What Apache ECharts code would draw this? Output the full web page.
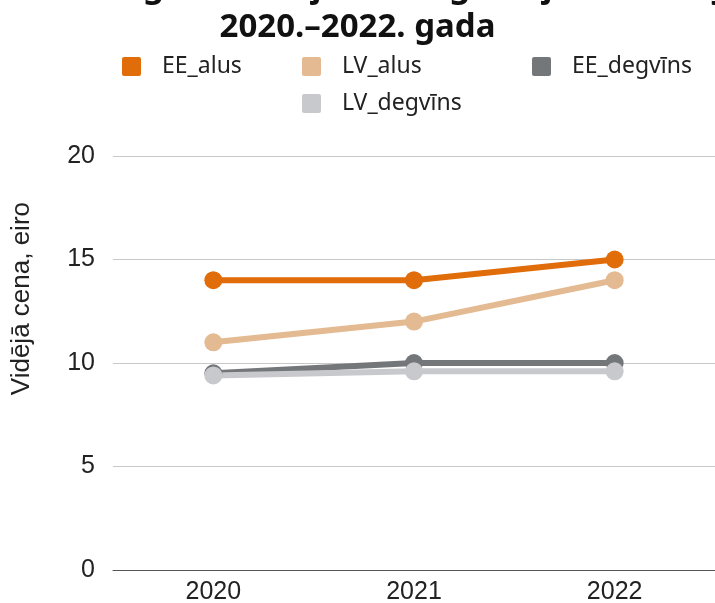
<!DOCTYPE html>
<html>
<head>
<meta charset="utf-8">
<script src="https://cdn.jsdelivr.net/npm/echarts@6/dist/echarts.min.js"></script>
<style>
html,body{margin:0;padding:0;background:#fff;}
#main{width:715px;height:603px;}
</style>
</head>
<body>
<div id="main"></div>
<script>
// dati
var years = ['2020', '2021', '2022'];
var eeAlus = [14, 14, 15];
var lvAlus = [11, 12, 14];
var eeDegvins = [9.5, 10, 10];
var lvDegvins = [9.4, 9.6, 9.6];
var seriesNames = ['EE_alus', 'LV_alus', 'EE_degvīns', 'LV_degvīns'];
var colors = ['#e06c0a', '#e3ba91', '#74777a', '#c7c9cd'];

var legendPos = [
    {left: 117, top: 50},
    {left: 297, top: 50},
    {left: 527, top: 50},
    {left: 297, top: 87}
];
var squareIcon = 'path://M2,0 H16 A2,2 0 0 1 18,2 V16 A2,2 0 0 1 16,18 H2 A2,2 0 0 1 0,16 V2 A2,2 0 0 1 2,0 Z';

var legends = [];
for (var i = 0; i < seriesNames.length; i++) {
    legends.push({
        data: [{name: seriesNames[i], icon: squareIcon}],
        left: legendPos[i].left,
        top: legendPos[i].top,
        itemWidth: 19,
        itemHeight: 19,
        textStyle: {fontSize: 23, color: '#222', fontFamily: 'Noto Sans', padding: [0, 0, 0, 16]}
    });
}

var mkSeries = function(name, data, color) {
    return {
        name: name,
        type: 'line',
        data: data,
        symbol: 'circle',
        symbolSize: 18,
        legendIcon: squareIcon,
        lineStyle: {width: 6, color: color},
        itemStyle: {color: color}
    };
};

var chart = echarts.init(document.getElementById('main'));
chart.setOption({
    animation: false,
    color: colors,
    title: {
        text: 'Alus un degvīna vidējā cena Igaunijā un Latvijā\n2020.–2022. gada',
        left: 'center',
        top: -37,
        textStyle: {fontSize: 33, fontWeight: 'bold', color: '#111', fontFamily: 'Noto Sans', lineHeight: 40}
    },
    legend: legends,
    graphic: [{
        type: 'text',
        left: 9,
        top: 202,
        rotation: Math.PI / 2,
        style: {text: 'Vidējā cena, eiro', fontSize: 26, fill: '#222', fontFamily: 'Liberation Sans'}
    }],
    grid: {left: 113, right: 0, top: 156, bottom: 33, outerBoundsMode: 'none'},
    xAxis: {
        type: 'category',
        data: years,
        axisTick: {show: false},
        axisLine: {lineStyle: {color: '#555', width: 1}},
        axisLabel: {fontSize: 25, color: '#222', margin: 10, fontFamily: 'Liberation Sans'}
    },
    yAxis: {
        type: 'value',
        min: 0,
        max: 20,
        interval: 5,
        axisLabel: {fontSize: 25, color: '#222', margin: 18, fontFamily: 'Liberation Sans'},
        splitLine: {lineStyle: {color: '#c8c8c8', width: 1}}
    },
    series: [
        mkSeries(seriesNames[0], eeAlus, colors[0]),
        mkSeries(seriesNames[1], lvAlus, colors[1]),
        mkSeries(seriesNames[2], eeDegvins, colors[2]),
        mkSeries(seriesNames[3], lvDegvins, colors[3])
    ]
});
</script>
</body>
</html>
